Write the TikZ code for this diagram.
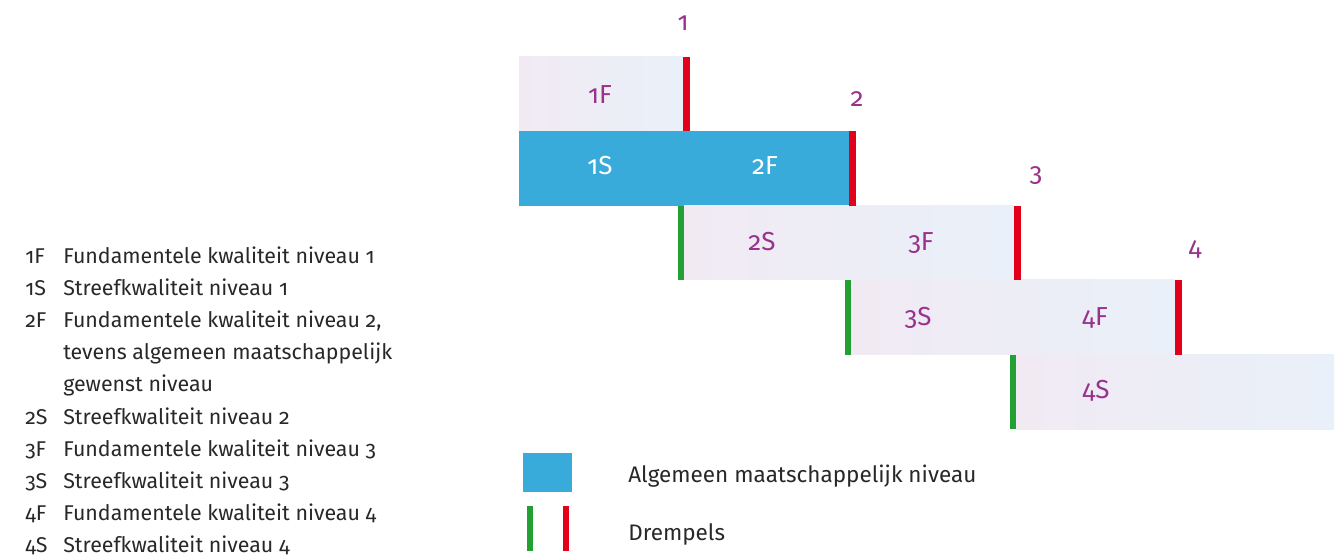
\documentclass[tikz,border=0pt]{standalone}
\usepackage{fontspec}
\setmainfont[Numbers=OldStyle]{Fira Sans}
\definecolor{lvlpurple}{RGB}{152,50,140}
\definecolor{lvlblue}{RGB}{57,171,219}
\definecolor{lvlred}{RGB}{226,0,26}
\definecolor{lvlgreen}{RGB}{35,160,51}
\definecolor{lvlpink}{RGB}{241,234,243}
\definecolor{lvlsky}{RGB}{233,240,249}
\definecolor{legtext}{RGB}{40,40,40}
\begin{document}
\begin{tikzpicture}[x=0.025cm,y=-0.025cm,
  lvlbar/.style={left color=lvlpink,right color=lvlsky},
  lvllabel/.style={anchor=base,text=lvlpurple,inner sep=0pt,font=\fontsize{18.5}{20}\selectfont},
  keytxt/.style={anchor=base west,text=legtext,inner sep=0pt,font=\fontsize{15.2}{17}\selectfont},
  bigkey/.style={anchor=base west,text=legtext,inner sep=0pt,font=\fontsize{16}{18}\selectfont}]
\useasboundingbox (0,0) rectangle (1341,556);
%\draw[step=50,gray,very thin] (0,0) grid (1341,556);
% levels
\shade[lvlbar] (519,57) rectangle (683,131);
\fill[lvlblue] (519,131) rectangle (849,206);
\shade[lvlbar] (684,206) rectangle (1014,280);
\shade[lvlbar] (851,280) rectangle (1175,355);
\shade[lvlbar] (1016,355) rectangle (1334,429);
% drempels
\fill[lvlred] (683,57) rectangle (690,131);
\fill[lvlred] (849,131) rectangle (856,206);
\fill[lvlred] (1014,206) rectangle (1021,280);
\fill[lvlred] (1175,280) rectangle (1182,355);
\fill[lvlgreen] (678,206) rectangle (684,280);
\fill[lvlgreen] (845,280) rectangle (851,355);
\fill[lvlgreen] (1010,355) rectangle (1016,429);
% texts in the bars
\node[lvllabel] (f1) at (600,104) {1F};
\node[lvllabel,text=white] (s1) at (600,175) {1S};
\node[lvllabel,text=white] (f2) at (765,175) {2F};
\node[lvllabel] (s2) at (762,251) {2S};
\node[lvllabel] (f3) at (921,251) {3F};
\node[lvllabel] (s3) at (918,326) {3S};
\node[lvllabel] (f4) at (1095,326) {4F};
\node[lvllabel] (s4) at (1096,399) {4S};
% numbers above
\node[lvllabel] (n1) at (683,31) {1};
\node[lvllabel] (n2) at (857,107) {2};
\node[lvllabel] (n3) at (1036,182) {3};
\node[lvllabel] (n4) at (1195,256) {4};
% key on the left
\node[keytxt] (k1) at (25,264) {1F};
\node[keytxt] (t1) at (63,264) {Fundamentele kwaliteit niveau 1};
\node[keytxt] (k2) at (25,296) {1S};
\node[keytxt] (t2) at (63,296) {Streefkwaliteit niveau 1};
\node[keytxt] (k3) at (25,328) {2F};
\node[keytxt] (t3) at (63,328) {Fundamentele kwaliteit niveau 2,};
\node[keytxt] (t3b) at (63,360) {tevens algemeen maatschappelijk};
\node[keytxt] (t3c) at (63,392) {gewenst niveau};
\node[keytxt] (k4) at (25,424) {2S};
\node[keytxt] (t4) at (63,424) {Streefkwaliteit niveau 2};
\node[keytxt] (k5) at (25,456) {3F};
\node[keytxt] (t5) at (63,456) {Fundamentele kwaliteit niveau 3};
\node[keytxt] (k6) at (25,488) {3S};
\node[keytxt] (t6) at (63,488) {Streefkwaliteit niveau 3};
\node[keytxt] (k7) at (25,520) {4F};
\node[keytxt] (t7) at (63,520) {Fundamentele kwaliteit niveau 4};
\node[keytxt] (k8) at (25,552) {4S};
\node[keytxt] (t8) at (63,552) {Streefkwaliteit niveau 4};
% key below
\fill[lvlblue] (523,453) rectangle (572,492);
\node[bigkey] (alg) at (628,482) {Algemeen maatschappelijk niveau};
\fill[lvlgreen] (527,506) rectangle (533,551);
\fill[lvlred] (563,506) rectangle (569,551);
\node[bigkey] (drp) at (628,540) {Drempels};
\end{tikzpicture}
\end{document}
